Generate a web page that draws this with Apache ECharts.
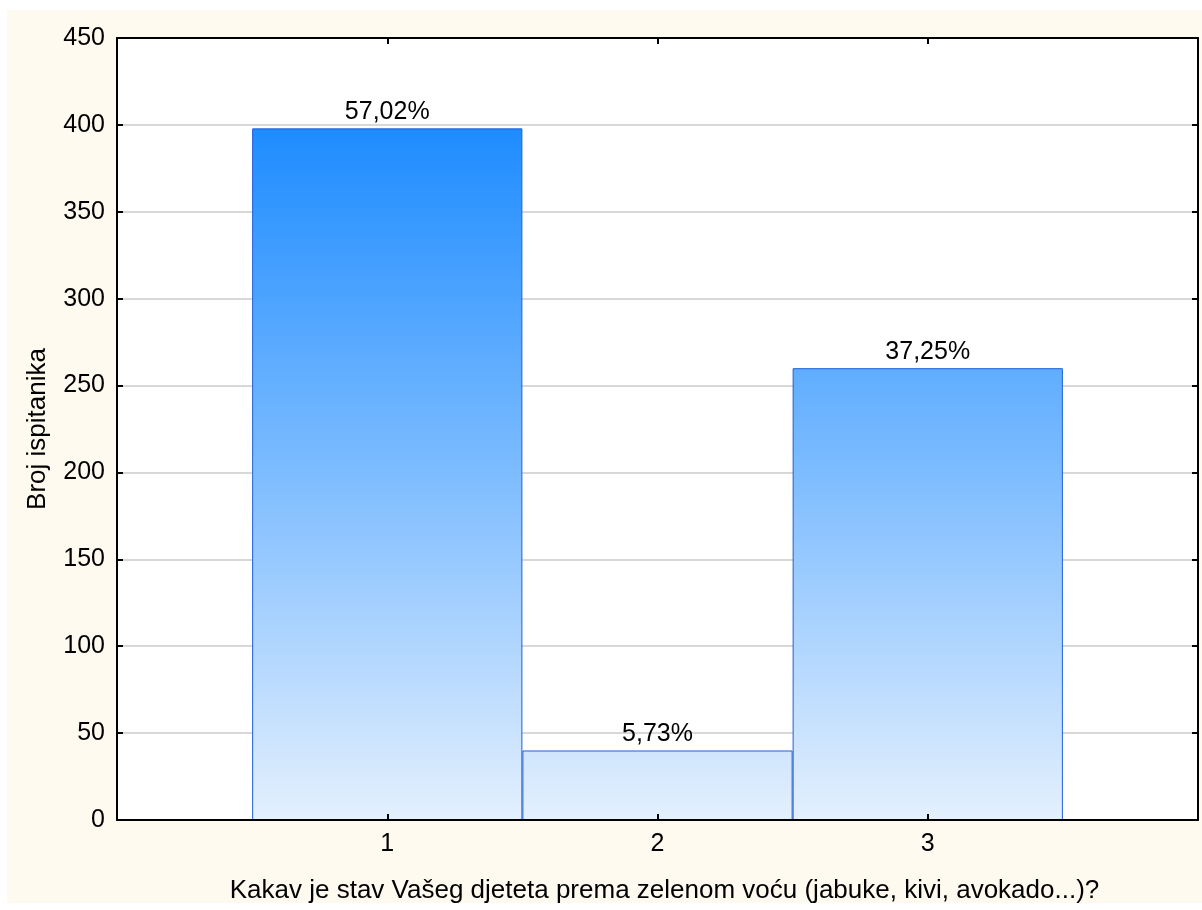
<!DOCTYPE html>
<html>
<head>
<meta charset="utf-8">
<script src="https://cdn.jsdelivr.net/npm/echarts@6/dist/echarts.min.js"></script>
<style>
  html, body { margin: 0; padding: 0; background: #ffffff; }
  #wrap { position: relative; width: 1202px; height: 910px; background: #ffffff; }
  #panel { position: absolute; left: 7px; top: 10px; width: 1195px; height: 893px; background: #fffaf0; }
  #chart { position: absolute; left: 0; top: 0; width: 1202px; height: 910px; }
</style>
</head>
<body>
<div id="wrap">
  <div id="panel"></div>
  <div id="chart"></div>
</div>
<script>
// Answer categories (padded with empty slots at both ends of the axis)
const categories = ['', '1', '2', '3', ''];
// Number of respondents per answer
const counts = ['-', 398, 40, 260, '-'];
// Y axis scale
const yMin = 0;
const yMax = 450;
const yStep = 50;

const xTitle = 'Kakav je stav Vašeg djeteta prema zelenom voću (jabuke, kivi, avokado...)?';
const yTitle = 'Broj ispitanika';

const total = counts.filter(v => typeof v === 'number').reduce((a, b) => a + b, 0);
const pctLabel = v => (v / total * 100).toFixed(2).replace('.', ',') + '%';

const FONT = '"Liberation Sans", Arial, sans-serif';
const frameLine = { show: true, onZero: false, lineStyle: { color: '#000000', width: 2 } };
const innerTick = { show: true, inside: true, length: 6, lineStyle: { color: '#000000', width: 2 } };
// ticks only on the real answers, not on the padding slots
const catTick = Object.assign({}, innerTick, { interval: i => i > 0 && i < categories.length - 1 });

const chart = echarts.init(document.getElementById('chart'), null, { renderer: 'canvas' });
chart.setOption({
  backgroundColor: 'transparent',
  animation: false,
  grid: {
    left: 117, right: 4, top: 38, bottom: 90,
    show: true, backgroundColor: '#ffffff', borderWidth: 0
  },
  xAxis: [
    {
      type: 'category',
      z: 5,
      data: categories,
      boundaryGap: false,
      position: 'bottom',
      axisLine: frameLine,
      axisTick: catTick,
      axisLabel: { color: '#000000', fontFamily: FONT, fontSize: 25, margin: 12, interval: 0 },
      splitLine: { show: false },
      name: xTitle,
      nameLocation: 'middle',
      nameGap: 58,
      nameTextStyle: { color: '#000000', fontFamily: FONT, fontSize: 26, padding: [0, 0, 0, 14] }
    },
    {
      type: 'category',
      z: 5,
      data: categories,
      boundaryGap: false,
      position: 'top',
      axisLine: frameLine,
      axisTick: catTick,
      axisLabel: { show: false },
      splitLine: { show: false }
    }
  ],
  yAxis: [
    {
      type: 'value',
      z: 1,
      min: yMin, max: yMax, interval: yStep,
      position: 'left',
      axisLine: frameLine,
      axisTick: innerTick,
      axisLabel: { color: '#000000', fontFamily: FONT, fontSize: 25, margin: 12 },
      splitLine: { show: true, lineStyle: { color: '#d8d8d8', width: 2 } },
      name: yTitle,
      nameLocation: 'middle',
      nameGap: 66,
      nameTextStyle: { color: '#000000', fontFamily: FONT, fontSize: 26 }
    },
    {
      type: 'value',
      z: 5,
      min: yMin, max: yMax, interval: yStep,
      position: 'right',
      axisLine: frameLine,
      axisTick: innerTick,
      axisLabel: { show: false },
      splitLine: { show: false }
    }
  ],
  series: [
    {
      type: 'bar',
      z: 2,
      data: counts,
      barWidth: '100%',
      itemStyle: {
        color: {
          type: 'linear', global: true,
          x: 0, y: 128, x2: 0, y2: 820,
          colorStops: [
            { offset: 0, color: '#1e8cff' },
            { offset: 0.5, color: '#7dbcff' },
            { offset: 1, color: '#e4f0fd' }
          ]
        },
        borderColor: '#1f5fd8',
        borderWidth: 1
      },
      label: {
        show: true,
        position: 'top',
        distance: 4,
        color: '#000000',
        fontFamily: FONT,
        fontSize: 25,
        formatter: p => pctLabel(p.value)
      }
    }
  ]
});
</script>
</body>
</html>
